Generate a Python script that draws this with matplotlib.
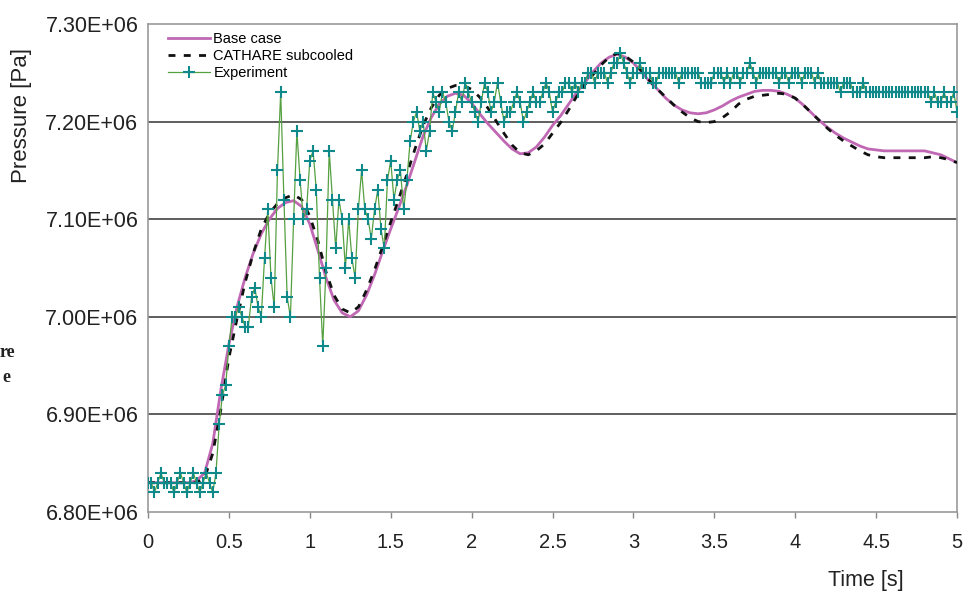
import numpy as np
import matplotlib
matplotlib.use("Agg")
import matplotlib.pyplot as plt

plt.rcParams['font.family'] = ['Liberation Sans', 'DejaVu Sans']

# Calculated pressure, sampled every 0.05 s (MPa)
calc_t = [0.00, 0.05, 0.10, 0.15, 0.20, 0.25, 0.30, 0.35, 0.40, 0.45,
          0.50, 0.55, 0.60, 0.65, 0.70, 0.75, 0.80, 0.85, 0.90, 0.95,
          1.00, 1.05, 1.10, 1.15, 1.20, 1.25, 1.30, 1.35, 1.40, 1.45,
          1.50, 1.55, 1.60, 1.65, 1.70, 1.75, 1.80, 1.85, 1.90, 1.95,
          2.00, 2.05, 2.10, 2.15, 2.20, 2.25, 2.30, 2.35, 2.40, 2.45,
          2.50, 2.55, 2.60, 2.65, 2.70, 2.75, 2.80, 2.85, 2.90, 2.95,
          3.00, 3.05, 3.10, 3.15, 3.20, 3.25, 3.30, 3.35, 3.40, 3.45,
          3.50, 3.55, 3.60, 3.65, 3.70, 3.75, 3.80, 3.85, 3.90, 3.95,
          4.00, 4.05, 4.10, 4.15, 4.20, 4.25, 4.30, 4.35, 4.40, 4.45,
          4.50, 4.55, 4.60, 4.65, 4.70, 4.75, 4.80, 4.85, 4.90, 4.95,
          5.00]

base_case = [6.830, 6.830, 6.830, 6.830, 6.830, 6.830, 6.832, 6.840, 6.870, 6.925,
             6.972, 7.010, 7.040, 7.065, 7.085, 7.100, 7.111, 7.117, 7.119, 7.113,
             7.095, 7.068, 7.040, 7.017, 7.004, 7.000, 7.006, 7.022, 7.043, 7.067,
             7.090, 7.112, 7.135, 7.160, 7.185, 7.204, 7.218, 7.226, 7.229, 7.227,
             7.219, 7.208, 7.198, 7.189, 7.180, 7.172, 7.167, 7.168, 7.174, 7.184,
             7.196, 7.206, 7.218, 7.230, 7.240, 7.251, 7.260, 7.266, 7.269, 7.266,
             7.260, 7.251, 7.241, 7.233, 7.224, 7.217, 7.212, 7.209, 7.208, 7.209,
             7.212, 7.216, 7.221, 7.225, 7.228, 7.231, 7.232, 7.232, 7.231, 7.228,
             7.224, 7.217, 7.209, 7.201, 7.194, 7.188, 7.183, 7.179, 7.175, 7.172,
             7.171, 7.170, 7.170, 7.170, 7.170, 7.170, 7.170, 7.168, 7.166, 7.162,
             7.158]

cathare = [6.830, 6.830, 6.830, 6.830, 6.830, 6.830, 6.830, 6.835, 6.860, 6.905,
           6.958, 6.998, 7.035, 7.065, 7.090, 7.106, 7.116, 7.122, 7.125, 7.120,
           7.103, 7.078, 7.046, 7.022, 7.008, 7.004, 7.010, 7.027, 7.048, 7.072,
           7.097, 7.121, 7.146, 7.172, 7.196, 7.214, 7.227, 7.234, 7.237, 7.237,
           7.233, 7.225, 7.214, 7.201, 7.188, 7.176, 7.168, 7.166, 7.170, 7.177,
           7.188, 7.199, 7.212, 7.226, 7.238, 7.248, 7.258, 7.266, 7.270, 7.267,
           7.261, 7.252, 7.242, 7.233, 7.225, 7.217, 7.210, 7.204, 7.200, 7.199,
           7.200, 7.204, 7.210, 7.218, 7.223, 7.226, 7.227, 7.228, 7.229, 7.228,
           7.224, 7.217, 7.209, 7.201, 7.193, 7.186, 7.180, 7.175, 7.170, 7.166,
           7.164, 7.163, 7.163, 7.163, 7.163, 7.163, 7.163, 7.164, 7.163, 7.161,
           7.158]

# Measured pressure, one reading every 0.02 s (MPa)
exp_t = np.round(np.arange(0, 5.001, 0.02), 2)
experiment = [
    6.83, 6.83, 6.82, 6.83, 6.84, 6.83, 6.83, 6.83, 6.82, 6.83,
    6.84, 6.83, 6.82, 6.83, 6.84, 6.83, 6.82, 6.83, 6.84, 6.83,
    6.82, 6.84, 6.89, 6.92, 6.93, 6.97, 7.00, 7.00, 7.01, 7.00,
    6.99, 6.99, 7.02, 7.03, 7.01, 7.00, 7.06, 7.11, 7.04, 7.01,
    7.15, 7.23, 7.12, 7.02, 7.00, 7.10, 7.19, 7.14, 7.10, 7.11,
    7.16, 7.17, 7.13, 7.04, 6.97, 7.05, 7.17, 7.12, 7.07, 7.12,
    7.10, 7.05, 7.10, 7.06, 7.04, 7.11, 7.15, 7.11, 7.10, 7.08,
    7.11, 7.13, 7.09, 7.07, 7.14, 7.16, 7.12, 7.14, 7.15, 7.11,
    7.14, 7.18, 7.20, 7.21, 7.19, 7.20, 7.17, 7.19, 7.23, 7.22,
    7.21, 7.23, 7.22, 7.20, 7.19, 7.21, 7.23, 7.22, 7.24, 7.23,
    7.22, 7.21, 7.20, 7.22, 7.24, 7.23, 7.21, 7.22, 7.24, 7.22,
    7.20, 7.21, 7.21, 7.22, 7.23, 7.22, 7.20, 7.21, 7.22, 7.23,
    7.22, 7.22, 7.23, 7.24, 7.23, 7.21, 7.22, 7.23, 7.23, 7.24,
    7.24, 7.23, 7.24, 7.23, 7.24, 7.24, 7.25, 7.25, 7.24, 7.25,
    7.25, 7.25, 7.24, 7.25, 7.26, 7.26, 7.27, 7.26, 7.25, 7.24,
    7.25, 7.25, 7.26, 7.25, 7.25, 7.25, 7.24, 7.24, 7.25, 7.25,
    7.25, 7.25, 7.25, 7.25, 7.24, 7.25, 7.25, 7.25, 7.25, 7.25,
    7.25, 7.24, 7.24, 7.24, 7.24, 7.25, 7.25, 7.25, 7.24, 7.25,
    7.24, 7.25, 7.25, 7.24, 7.25, 7.25, 7.26, 7.25, 7.24, 7.25,
    7.25, 7.25, 7.25, 7.25, 7.25, 7.24, 7.25, 7.25, 7.24, 7.25,
    7.25, 7.25, 7.24, 7.25, 7.25, 7.25, 7.24, 7.25, 7.24, 7.24,
    7.24, 7.24, 7.24, 7.24, 7.23, 7.24, 7.24, 7.24, 7.23, 7.23,
    7.23, 7.24, 7.23, 7.23, 7.23, 7.23, 7.23, 7.23, 7.23, 7.23,
    7.23, 7.23, 7.23, 7.23, 7.23, 7.23, 7.23, 7.23, 7.23, 7.23,
    7.23, 7.23, 7.22, 7.23, 7.22, 7.22, 7.23, 7.22, 7.22, 7.23,
    7.21]

x_ticks = [0, 0.5, 1, 1.5, 2, 2.5, 3, 3.5, 4, 4.5, 5]
x_labels = ["0", "0.5", "1", "1.5", "2", "2.5", "3", "3.5", "4", "4.5", "5"]
y_ticks = [6.80e6, 6.90e6, 7.00e6, 7.10e6, 7.20e6, 7.30e6]
y_labels = ["6.80E+06", "6.90E+06", "7.00E+06", "7.10E+06", "7.20E+06", "7.30E+06"]

fig = plt.figure(figsize=(9.7, 5.97), dpi=100)
ax = fig.add_axes([0.1526, 0.1424, 0.834, 0.8174])

for y in y_ticks[1:-1]:
    ax.axhline(y, color='#333333', lw=1.1, zorder=1)

ax.plot(calc_t, np.array(base_case) * 1e6, color='#c068b4', lw=2.0,
        label='Base case', zorder=2)
ax.plot(calc_t, np.array(cathare) * 1e6, color='#111111', lw=2.0,
        ls=(0, (2.5, 3)), label='CATHARE subcooled', zorder=3)
ax.plot(exp_t, np.array(experiment) * 1e6, color='#55a040', lw=0.9,
        marker='+', ms=9, mew=1.5, mec='#10898a', label='Experiment', zorder=4)

ax.set_xlim(0, 5)
ax.set_ylim(6.8e6, 7.3e6)
ax.set_xticks(x_ticks)
ax.set_xticklabels(x_labels)
ax.set_yticks(y_ticks)
ax.set_yticklabels(y_labels)
ax.tick_params(axis='x', length=4, width=1, color='#888888', pad=11,
               labelsize=14.5, labelcolor='#222222')
ax.tick_params(axis='y', length=0, pad=7, labelsize=15.5, labelcolor='#222222')
for s in ax.spines.values():
    s.set_color('#999999')
    s.set_linewidth(1.2)

leg = ax.legend(loc='upper left', frameon=False, fontsize=10.5,
                handlelength=2.9, handletextpad=0.2, labelspacing=0.22,
                borderaxespad=0.15, bbox_to_anchor=(0.015, 1.0))

fig.text(0.022, 0.807, 'Pressure [Pa]', rotation=90, ha='center', va='center',
         fontsize=16, color='#222222')
fig.text(0.893, 0.027, 'Time [s]', ha='center', va='center',
         fontsize=15.5, color='#222222')

# fragments of the neighbouring page text
fig.text(0.0, 0.41, 're', family=['Liberation Serif', 'DejaVu Serif'],
         fontweight='bold', fontsize=13, ha='left', va='center', color='#222222')
fig.text(0.002, 0.368, 'e', family=['Liberation Serif', 'DejaVu Serif'],
         fontweight='bold', fontsize=13, ha='left', va='center', color='#222222')

fig.savefig('out.png', dpi=100)
